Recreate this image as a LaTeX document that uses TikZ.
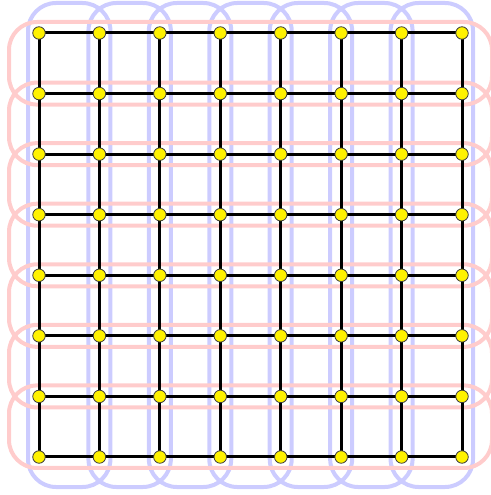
\documentclass[tikz,border=0pt]{standalone}
\begin{document}
\begin{tikzpicture}[x=1pt,y=-1pt,
  vert/.style={draw={rgb,255:red,204;green,204;blue,255},line width=4pt,rounded corners=28pt},
  horz/.style={draw={rgb,255:red,255;green,204;blue,204},line width=4pt,rounded corners=28pt},
  edge/.style={draw=black,line width=3pt},
  vtx/.style={circle,draw={rgb,255:red,60;green,60;blue,60},line width=0.8pt,fill=yellow,inner sep=0pt,minimum size=12.5pt}]
\useasboundingbox (0,0) rectangle (490,495);
\pgfmathsetmacro{\dx}{60.43}
\pgfmathsetmacro{\dy}{60.57}
% blue vertical groups
\foreach \i in {0,...,6} {
  \pgfmathsetmacro{\xa}{39+\i*\dx-11}
  \pgfmathsetmacro{\xb}{39+(\i+1)*\dx+11}
  \path[vert] (\xa,3) rectangle (\xb,487);
}
% red horizontal groups
\foreach \j in {0,...,6} {
  \pgfmathsetmacro{\ya}{33+\j*\dy-11}
  \pgfmathsetmacro{\yb}{33+(\j+1)*\dy+11}
  \path[horz] (9,\ya) rectangle (492,\yb);
}
% vertices
\foreach \i in {0,...,7} {
  \foreach \j in {0,...,7} {
    \pgfmathsetmacro{\px}{39+\i*\dx}
    \pgfmathsetmacro{\py}{33+\j*\dy}
    \coordinate (c-\i-\j) at (\px,\py);
  }
}
% edges
\foreach \i in {0,...,7} {
  \foreach \j [evaluate=\j as \k using int(\j+1)] in {0,...,6} {
    \path[edge] (c-\i-\j) -- (c-\i-\k);
    \path[edge] (c-\j-\i) -- (c-\k-\i);
  }
}
\foreach \i in {0,...,7} {
  \foreach \j in {0,...,7} {
    \node[vtx] (n-\i-\j) at (c-\i-\j) {};
  }
}
\end{tikzpicture}
\end{document}
